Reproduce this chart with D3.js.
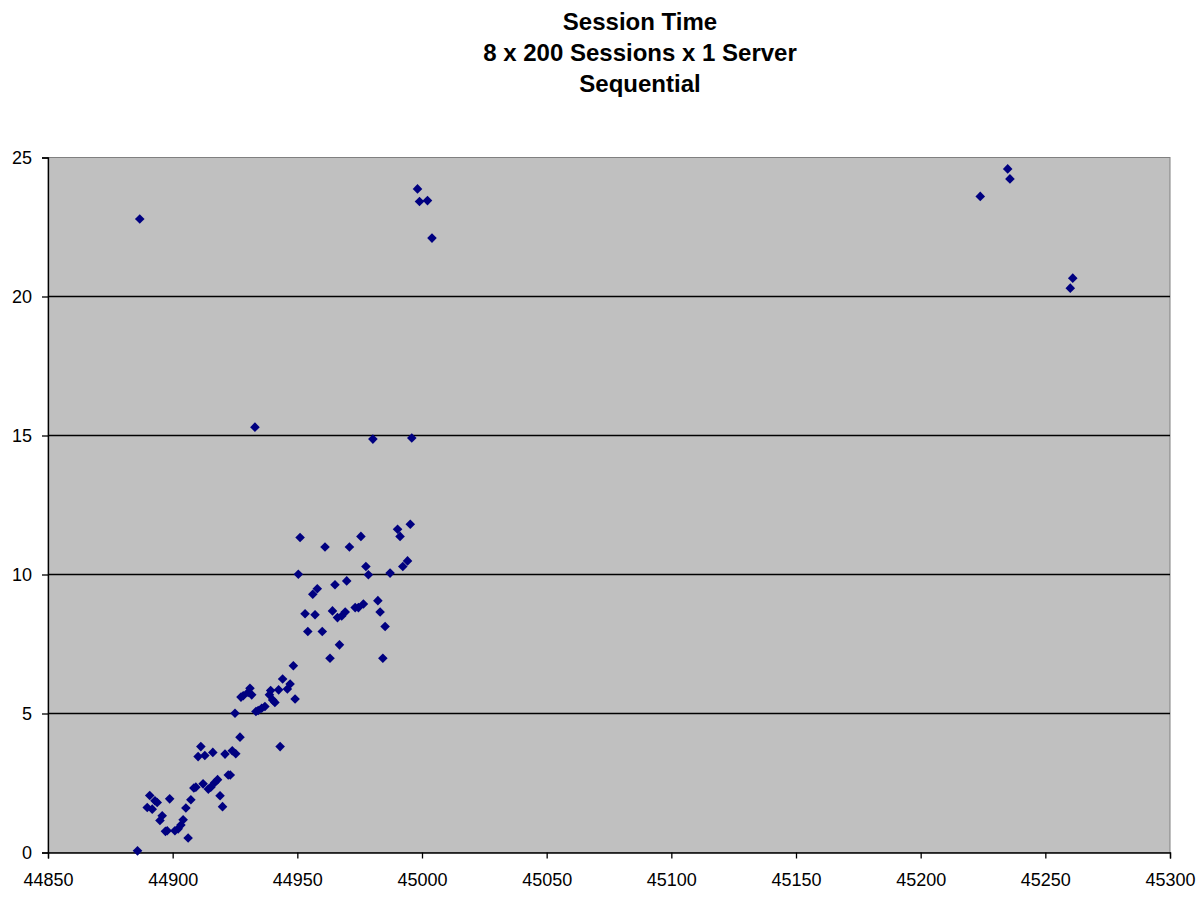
<!DOCTYPE html>
<html>
<head>
<meta charset="utf-8">
<script src="https://cdn.jsdelivr.net/npm/d3@7"></script>
<style>
  body { margin: 0; background: #fff; }
  svg text { font-family: "Liberation Sans", Arial, sans-serif; }
</style>
</head>
<body>
<script>
// session data
var sessionX = [
  44885.9, 44890.8, 44889.8, 44891.8, 44892.9, 44893.8, 44898.8, 44895.8, 44894.9, 44897.1,
  44897.8, 44900.9, 44902.2, 44903.3, 44904.2, 44906.2, 44905.3, 44907.3, 44908.5, 44909.3,
  44912.2, 44914.3, 44915.3, 44916.9, 44918.0, 44919.0, 44920.0, 44922.3, 44923.1, 44911.3,
  44910.2, 44912.9, 44916.1, 44921.0, 44923.9, 44925.3, 44927.0, 44925.0, 44927.4, 44928.3,
  44930.3, 44931.0, 44931.7, 44933.4, 44934.3, 44935.7, 44937.0, 44938.8, 44939.3, 44940.1,
  44941.0, 44942.5, 44944.1, 44946.0, 44947.1, 44948.4, 44949.1, 44943.1, 44950.4, 44956.2,
  44958.0, 44965.1, 44969.8, 44953.1, 44957.1, 44964.1, 44966.1, 44967.8, 44969.2, 44973.2,
  44974.5, 44976.5, 44982.3, 44983.2, 44985.2, 44954.2, 44960.0, 44966.9, 44963.1, 44984.3,
  44977.5, 44978.5, 44987.2, 44992.3, 44994.2, 44951.1, 44961.1, 44970.9, 44975.5, 44990.2,
  44991.2, 44995.3, 44933.0, 44980.3, 44995.9, 44998.2, 44999.0, 45002.2, 45004.0, 44886.8,
  45234.9, 45235.8, 45223.9, 45261.0, 45260.0
];
var sessionTime = [
  0.06, 2.05, 1.62, 1.56, 1.86, 1.80, 1.93, 1.32, 1.15, 0.76,
  0.78, 0.78, 0.85, 0.99, 1.18, 0.52, 1.60, 1.90, 2.32, 2.35,
  2.47, 2.28, 2.35, 2.52, 2.62, 2.04, 1.65, 2.79, 2.79, 3.81,
  3.45, 3.49, 3.60, 3.54, 3.66, 3.55, 4.15, 5.01, 5.59, 5.64,
  5.76, 5.91, 5.67, 5.07, 5.11, 5.19, 5.25, 5.67, 5.83, 5.49,
  5.40, 5.85, 6.24, 5.88, 6.06, 6.72, 5.52, 3.81, 10.01, 9.29,
  9.49, 9.63, 9.77, 8.59, 8.55, 8.69, 8.45, 8.51, 8.65, 8.81,
  8.81, 8.94, 9.06, 8.65, 8.13, 7.95, 7.95, 7.47, 6.99, 6.99,
  10.29, 9.99, 10.05, 10.29, 10.49, 11.33, 10.99, 10.99, 11.37, 11.63,
  11.37, 11.81, 15.30, 14.87, 14.91, 23.87, 23.42, 23.45, 22.10, 22.79,
  24.59, 24.23, 23.60, 20.66, 20.30
];
var xTicks = [44850, 44900, 44950, 45000, 45050, 45100, 45150, 45200, 45250, 45300];
var yTicks = [0, 5, 10, 15, 20, 25];
var titleLines = ["Session Time", "8 x 200 Sessions x 1 Server", "Sequential"];

var width = 1198, height = 897;
var plotLeft = 48, plotTop = 157.5, plotRight = 1170, plotBottom = 852.5;

var svg = d3.select('body').append('svg')
    .attr('width', width)
    .attr('height', height);

var x = d3.scaleLinear().domain([44850, 45300]).range([plotLeft, plotRight]);
var y = d3.scaleLinear().domain([0, 25]).range([plotBottom, plotTop]);

// plot area
svg.append('rect')
    .attr('x', plotLeft).attr('y', plotTop)
    .attr('width', plotRight - plotLeft).attr('height', plotBottom - plotTop)
    .attr('fill', '#c0c0c0')
    .attr('stroke', '#808080')
    .attr('stroke-width', 1);

// gridlines
svg.append('g').selectAll('line')
    .data(yTicks.filter(function(d){ return d > 0 && d < 25; }))
    .enter().append('line')
    .attr('x1', plotLeft).attr('x2', plotRight)
    .attr('y1', function(d){ return y(d); })
    .attr('y2', function(d){ return y(d); })
    .attr('stroke', '#000')
    .attr('stroke-width', 1.3);

var yAxis = d3.axisLeft(y).tickValues(yTicks).tickSize(6).tickPadding(10);
var xAxis = d3.axisBottom(x).tickValues(xTicks).tickFormat(d3.format('d')).tickSize(6).tickPadding(15);

var gy = svg.append('g')
    .attr('transform', 'translate(' + plotLeft + ',0)')
    .call(yAxis);
var gx = svg.append('g')
    .attr('transform', 'translate(0,' + plotBottom + ')')
    .call(xAxis);

[gx, gy].forEach(function(g){
    g.select('.domain').attr('stroke', '#000').attr('stroke-width', 1.3);
    g.selectAll('.tick line').attr('stroke', '#000').attr('stroke-width', 1.3);
    g.selectAll('.tick text')
        .attr('fill', '#000')
        .style('font-size', '18px')
        .style('font-family', '"Liberation Sans", Arial, sans-serif');
});

// points
var pts = sessionX.map(function(v, i){ return {x: v, y: sessionTime[i]}; });
svg.append('g').selectAll('path')
    .data(pts)
    .enter().append('path')
    .attr('d', d3.symbol(d3.symbolSquare, 46))
    .attr('transform', function(d){ return 'translate(' + x(d.x) + ',' + y(d.y) + ') rotate(45)'; })
    .attr('fill', '#000080');

// title
svg.append('g').selectAll('text')
    .data(titleLines)
    .enter().append('text')
    .attr('x', 640)
    .attr('y', function(d, i){ return 30 + i * 31; })
    .attr('text-anchor', 'middle')
    .style('font-size', '24px')
    .style('font-weight', 'bold')
    .text(function(d){ return d; });
</script>
</body>
</html>
